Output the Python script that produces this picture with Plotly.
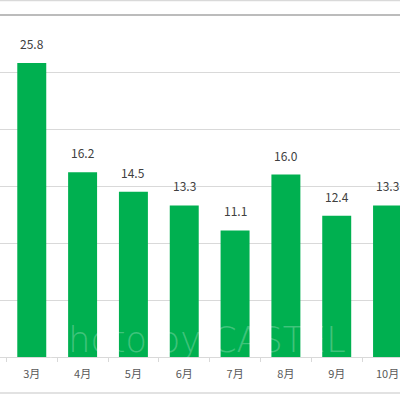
import plotly.graph_objects as go

months = ["3月", "4月", "5月", "6月", "7月", "8月", "9月", "10月"]
values = [25.8, 16.2, 14.5, 13.3, 11.1, 16.0, 12.4, 13.3]
value_labels = ["25.8", "16.2", "14.5", "13.3", "11.1", "16.0", "12.4", "13.3"]

BAR = "#00B050"
GRID = "#d9d9d9"
LABEL_FONT = "Noto Sans CJK JP"

fig = go.Figure()
fig.add_trace(go.Bar(x=months, y=values, marker=dict(color=BAR, line=dict(width=0)),
                     width=0.57, hoverinfo="skip"))

for m, v, t in zip(months, values, value_labels):
    fig.add_annotation(x=m, y=v, text=t, showarrow=False, yanchor="bottom", yshift=9,
                       font=dict(family=LABEL_FONT, size=12, color="#404040"))

# watermark
fig.add_annotation(xref="paper", yref="paper", x=0.11, y=-0.015, xanchor="left", yanchor="bottom",
                   text="photo by CASTEL", showarrow=False,
                   font=dict(family="DejaVu Sans", size=35, color="rgba(255,255,255,0.25)", weight=300))

H = 342.0
fig.add_shape(type="line", xref="paper", yref="paper", x0=0, x1=1, y0=1, y1=1,
              line=dict(color="#a6a6a6", width=1.5), layer="above")
fig.add_shape(type="line", xref="paper", yref="paper", x0=0, x1=1, y0=1 + 14.5 / H, y1=1 + 14.5 / H,
              line=dict(color=GRID, width=1.5))
fig.add_shape(type="line", xref="paper", yref="paper", x0=0, x1=1, y0=-36 / H, y1=-36 / H,
              line=dict(color=GRID, width=1.5))

fig.update_layout(
    width=400, height=400,
    margin=dict(l=0, r=0, t=15, b=43),
    paper_bgcolor="white", plot_bgcolor="white",
    showlegend=False,
    bargap=0.43,
    xaxis=dict(type="category", range=[-0.625, 7.245], showgrid=False,
               showline=True, linecolor=GRID, linewidth=1,
               ticks="outside", tickson="boundaries", ticklen=4, tickcolor=GRID,
               tickfont=dict(family=LABEL_FONT, size=11, color="#595959"),
               ticklabelstandoff=7, zeroline=False),
    yaxis=dict(range=[0, 30], dtick=5, showgrid=True, gridcolor=GRID, gridwidth=1,
               showticklabels=False, zeroline=False, showline=False),
)

fig.write_html("out.html", config={"displayModeBar": False},
               post_script="document.body.style.margin='0';document.body.style.overflow='hidden';")
